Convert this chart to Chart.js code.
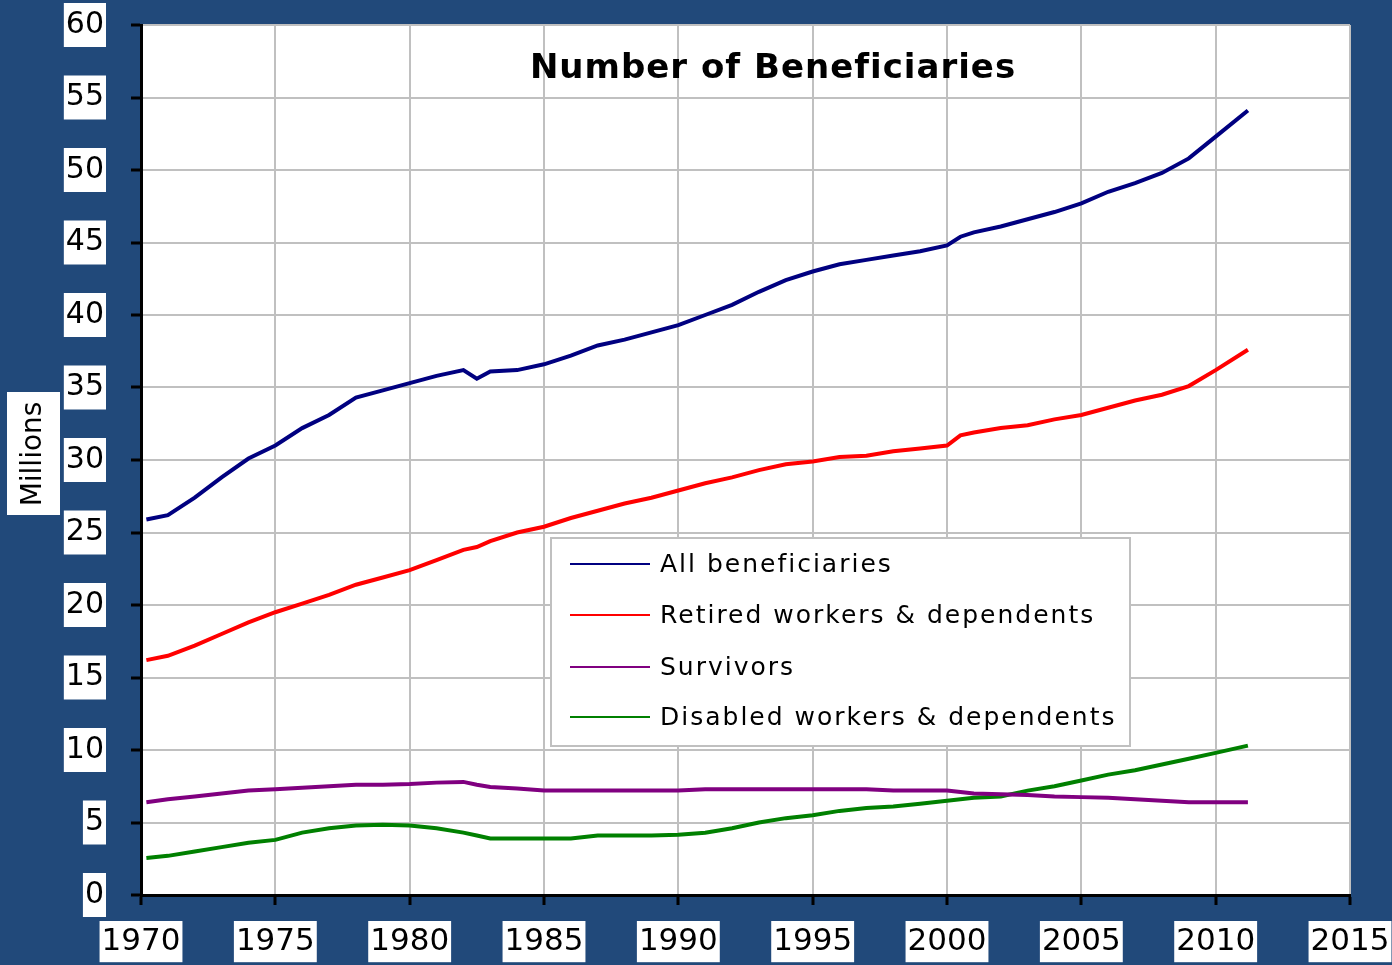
<!DOCTYPE html>
<html>
<head>
<meta charset="utf-8">
<script src="https://cdn.jsdelivr.net/npm/chart.js@4.4.1/dist/chart.umd.min.js"></script>
<style>
  html, body { margin: 0; padding: 0; background: #21497A; }
  #wrap { width: 1392px; height: 965px; }
</style>
</head>
<body>
<div id="wrap"><canvas id="chart" width="1392" height="965"></canvas></div>
<script>
const years = [1970.2, 1971, 1972, 1973, 1974, 1975, 1976, 1977, 1978, 1979, 1980, 1981, 1982, 1982.5, 1983, 1984, 1985, 1986, 1987, 1988, 1989, 1990, 1991, 1992, 1993, 1994, 1995, 1996, 1997, 1998, 1999, 2000, 2000.5, 2001, 2002, 2003, 2004, 2005, 2006, 2007, 2008, 2009, 2010, 2011.2];
const allBeneficiaries = [25.9, 26.2, 27.4, 28.8, 30.1, 31.0, 32.2, 33.1, 34.3, 34.8, 35.3, 35.8, 36.2, 35.6, 36.1, 36.2, 36.6, 37.2, 37.9, 38.3, 38.8, 39.3, 40.0, 40.7, 41.6, 42.4, 43.0, 43.5, 43.8, 44.1, 44.4, 44.8, 45.4, 45.7, 46.1, 46.6, 47.1, 47.7, 48.5, 49.1, 49.8, 50.8, 52.3, 54.1];
const retired = [16.2, 16.5, 17.2, 18.0, 18.8, 19.5, 20.1, 20.7, 21.4, 21.9, 22.4, 23.1, 23.8, 24.0, 24.4, 25.0, 25.4, 26.0, 26.5, 27.0, 27.4, 27.9, 28.4, 28.8, 29.3, 29.7, 29.9, 30.2, 30.3, 30.6, 30.8, 31.0, 31.7, 31.9, 32.2, 32.4, 32.8, 33.1, 33.6, 34.1, 34.5, 35.1, 36.2, 37.6];
const survivors = [6.4, 6.6, 6.8, 7.0, 7.2, 7.3, 7.4, 7.5, 7.6, 7.6, 7.65, 7.75, 7.8, 7.6, 7.45, 7.35, 7.2, 7.2, 7.2, 7.2, 7.2, 7.2, 7.3, 7.3, 7.3, 7.3, 7.3, 7.3, 7.3, 7.2, 7.2, 7.2, 7.1, 7.0, 6.95, 6.9, 6.8, 6.75, 6.7, 6.6, 6.5, 6.4, 6.4, 6.4];
const disabled = [2.55, 2.7, 3.0, 3.3, 3.6, 3.8, 4.3, 4.6, 4.8, 4.85, 4.8, 4.6, 4.3, 4.1, 3.9, 3.9, 3.9, 3.9, 4.1, 4.1, 4.1, 4.15, 4.3, 4.6, 5.0, 5.3, 5.5, 5.8, 6.0, 6.1, 6.3, 6.5, 6.6, 6.7, 6.8, 7.2, 7.5, 7.9, 8.3, 8.6, 9.0, 9.4, 9.8, 10.3];

const seriesNames = ['All beneficiaries', 'Retired workers & dependents', 'Survivors', 'Disabled workers & dependents'];
const seriesColors = ['#000080', '#FF0000', '#800080', '#008000'];
const seriesValues = [allBeneficiaries, retired, survivors, disabled];

const toPoints = vals => vals.map((v, i) => ({ x: years[i], y: v }));

// white plot background, title, axis label and legend drawn on the canvas
const decorations = {
    id: 'decorations',
    beforeDraw(chart) {
        const { ctx, chartArea: a } = chart;
        ctx.save();
        ctx.fillStyle = '#FFFFFF';
        ctx.fillRect(a.left, a.top, a.right - a.left, a.bottom - a.top);
        ctx.restore();
    },
    afterDraw(chart) {
        const { ctx } = chart;
        ctx.save();

        // title
        ctx.fillStyle = '#000';
        ctx.font = 'bold 34px "DejaVu Sans"';
        ctx.letterSpacing = '1px';
        ctx.textAlign = 'center';
        ctx.textBaseline = 'middle';
        ctx.fillText('Number of Beneficiaries', 773, 69);

        // y axis title
        ctx.fillStyle = '#FFFFFF';
        ctx.fillRect(7, 392, 53, 123);
        ctx.translate(34, 454);
        ctx.rotate(-Math.PI / 2);
        ctx.fillStyle = '#000';
        ctx.font = '28px "DejaVu Sans"';
        ctx.letterSpacing = '0px';
        ctx.fillText('Millions', 0, 0);
        ctx.setTransform(1, 0, 0, 1, 0, 0);

        // legend
        ctx.fillStyle = '#FFFFFF';
        ctx.fillRect(551, 538, 579, 208);
        ctx.strokeStyle = '#C0C0C0';
        ctx.lineWidth = 2;
        ctx.strokeRect(551, 538, 579, 208);
        const rows = [564, 615, 667, 717];
        ctx.font = '25px "DejaVu Sans"';
        ctx.letterSpacing = '2px';
        ctx.textAlign = 'left';
        chart.data.datasets.forEach((ds, i) => {
            ctx.strokeStyle = ds.borderColor;
            ctx.lineWidth = 2;
            ctx.beginPath();
            ctx.moveTo(570, rows[i]);
            ctx.lineTo(650, rows[i]);
            ctx.stroke();
            ctx.fillStyle = '#000';
            ctx.fillText(ds.label, 660, rows[i] + 1);
        });
        ctx.restore();
    }
};

new Chart(document.getElementById('chart').getContext('2d'), {
    type: 'line',
    data: {
        datasets: seriesNames.map((name, i) => ({
            label: name,
            data: toPoints(seriesValues[i]),
            borderColor: seriesColors[i],
            backgroundColor: seriesColors[i],
            borderWidth: 4,
            pointRadius: 0,
            tension: 0,
            fill: false
        }))
    },
    options: {
        responsive: false,
        animation: false,
        layout: { padding: { top: 25, right: 42, left: 0, bottom: 0 } },
        plugins: {
            legend: { display: false },
            tooltip: { enabled: false }
        },
        scales: {
            x: {
                type: 'linear',
                min: 1970,
                max: 2015,
                afterFit: s => { s.height = 70; s.paddingLeft = 0; s.paddingRight = 0; },
                grid: { color: '#C0C0C0', lineWidth: 2, tickLength: 10, tickColor: '#000', tickWidth: 3 },
                border: { color: '#000', width: 3 },
                ticks: {
                    stepSize: 5,
                    color: '#000',
                    font: { family: 'DejaVu Sans', size: 31 },
                    padding: 18,
                    showLabelBackdrop: true,
                    backdropColor: '#FFFFFF',
                    backdropPadding: { left: 2, right: 2, top: 2, bottom: 2 },
                    maxRotation: 0,
                    callback: v => String(v)
                }
            },
            y: {
                min: 0,
                max: 60,
                afterFit: s => { s.width = 141; s.paddingTop = 0; s.paddingBottom = 0; },
                grid: { color: '#C0C0C0', lineWidth: 2, tickLength: 10, tickColor: '#000', tickWidth: 3 },
                border: { color: '#000', width: 3 },
                ticks: {
                    stepSize: 5,
                    color: '#000',
                    font: { family: 'DejaVu Sans', size: 30 },
                    padding: 27,
                    showLabelBackdrop: true,
                    backdropColor: '#FFFFFF',
                    backdropPadding: { left: 2, right: 2, top: 4, bottom: 4 }
                }
            }
        }
    },
    plugins: [decorations]
});
</script>
</body>
</html>
